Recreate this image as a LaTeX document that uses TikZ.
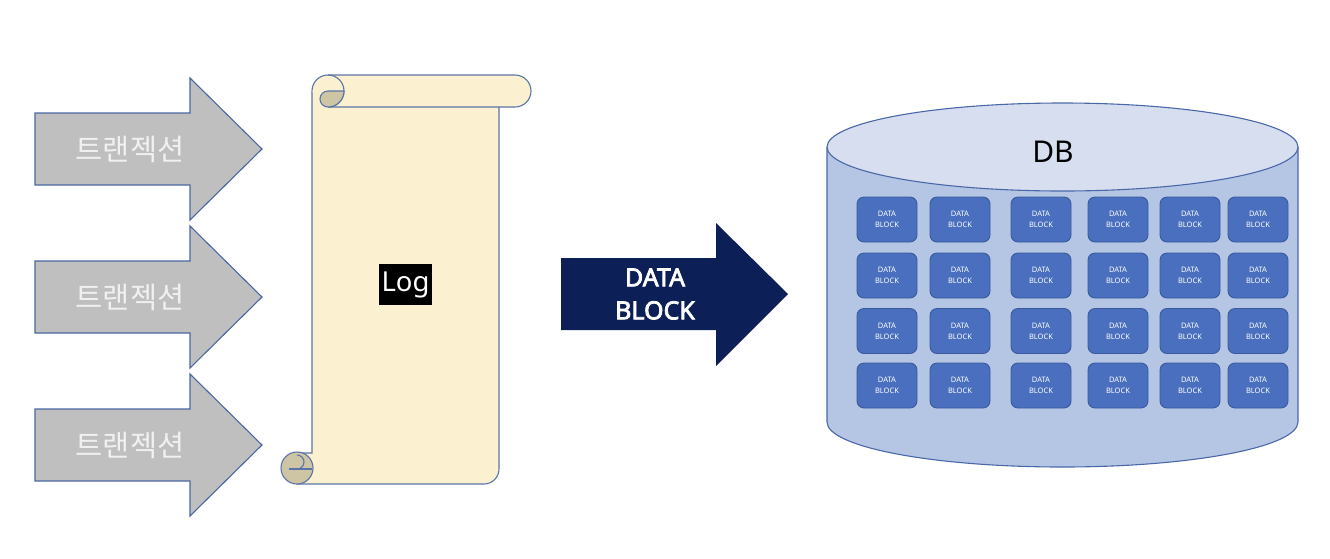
\documentclass[tikz,border=0pt]{standalone}
\usepackage{fontspec}
\setmainfont{Noto Sans}
\newfontfamily\kr{Noto Sans CJK KR}
\newfontfamily\boldsans{Noto Sans}[FakeBold=3]
\usepackage{tikz}
\definecolor{trgray}{HTML}{BFBFBF}
\definecolor{trline}{HTML}{4A67A1}
\definecolor{scrollfill}{HTML}{FBF0CF}
\definecolor{scrolledge}{HTML}{5B74A7}
\definecolor{curlfill}{HTML}{CEC5A5}
\definecolor{navy}{HTML}{0C1F57}
\definecolor{dbtop}{HTML}{D6DEF0}
\definecolor{dbside}{HTML}{B5C5E4}
\definecolor{dbedge}{HTML}{4A68A8}
\definecolor{blockfill}{HTML}{4A6FBF}
\definecolor{blockedge}{HTML}{3B5A9C}
\tikzset{
  grayarrow/.style={fill=trgray, draw=trline, line width=1.1pt},
  trtext/.style={text=white!94!black, font=\kr\fontsize{29.5}{32}\selectfont},
  scroll/.style={fill=scrollfill, draw=scrolledge, line width=1.1pt},
  curl/.style={fill=curlfill, draw=scrolledge, line width=1.1pt},
  scrollline/.style={draw=scrolledge, line width=1.1pt},
  logbox/.style={fill=black, text=white, inner sep=0pt, minimum width=53pt,
        minimum height=41pt, font=\fontsize{27.5}{30}\selectfont},
  arrowtext/.style={text=white, align=center,
        font=\boldsans\fontsize{25}{33}\selectfont},
  dbside/.style={fill=dbside, draw=dbedge, line width=1.1pt},
  dbtop/.style={fill=dbtop, draw=dbedge, line width=1.1pt},
  datablock/.style={fill=blockfill, draw=blockedge, line width=0.9pt,
        rounded corners=7pt, minimum width=60pt, minimum height=45pt,
        inner sep=0pt, text=white, align=center,
        font=\fontsize{7.5}{11}\selectfont}
}

\begin{document}
\begin{tikzpicture}[x=1pt, y=-1pt]
        \useasboundingbox (0,0) rectangle (1330,558);

        % transactions
        \foreach \c [count=\i] in {149,297,445} {
            \filldraw[grayarrow] (35,\c-36) -- (190,\c-36) -- (190,\c-71)
                -- (262,\c) -- (190,\c+71) -- (190,\c+36) -- (35,\c+36) -- cycle;
            \node[trtext] (tr\i) at (130,\c) {트랜젝션};
        }

        % log scroll
        \filldraw[scroll] (312,91) -- (312,453) -- (297,453) -- (297,484)
            -- (484,484) arc[start angle=90, end angle=0, radius=15] -- (499,107);
        \filldraw[scroll] (312,91) arc[start angle=180, end angle=270, radius=16]
            -- (515,75) arc[start angle=-90, end angle=90, radius=16] -- (328,107);
        \draw[scrollline] (328,75) arc[start angle=-90, end angle=90, radius=16];
        \filldraw[curl] (344,91) arc[start angle=0, end angle=90, radius=16]
            arc[start angle=90, end angle=270, radius=8] -- cycle;
        \filldraw[curl] (297,468) circle[radius=16];
        \draw[scrollline] (289,469) -- (312,469);
        \draw[scrollline] (297,469) arc[start angle=90, end angle=-90, radius=7];
        \node[logbox] (log) at (405.5,284.5) {Log};

        % data block arrow
        \fill[navy] (561,258) -- (716,258) -- (716,223) -- (788,294)
            -- (716,366) -- (716,330) -- (561,330) -- cycle;
        \node[arrowtext] (blk) at (655,294) {DATA\\BLOCK};

        % database
        \filldraw[dbside] (827,147) -- (827,422)
            arc[start angle=180, end angle=0, x radius=235.5, y radius=45]
            -- (1298,147);
        \filldraw[dbtop] (1062.5,147) ellipse[x radius=235.5, y radius=44];
        \node[font=\fontsize{30}{34}\selectfont] (db) at (1053,152) {DB};

        \foreach \y [count=\r] in {219.5,275.5,331,385.5}
            \foreach \x [count=\k] in {887,960,1041,1118,1190,1258}
                \node[datablock] (b\r\k) at (\x,\y) {DATA\\BLOCK};
\end{tikzpicture}
\end{document}
